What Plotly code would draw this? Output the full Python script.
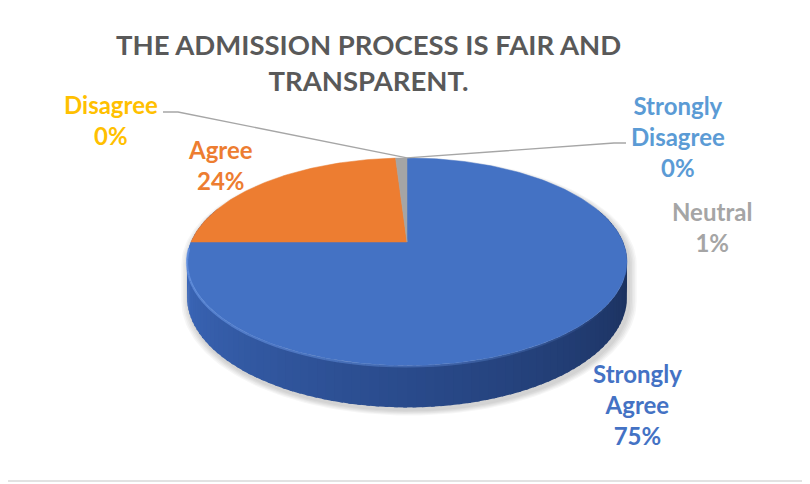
import numpy as np
import plotly.graph_objects as go

# ---------------- data ----------------
categories = ["Strongly Agree", "Agree", "Neutral", "Disagree", "Strongly Disagree"]
percent = [75, 24, 1, 0, 0]
slice_colors = ["#4472C4", "#ED7D31", "#A5A5A5", "#FFC000", "#5B9BD5"]
title_lines = ["THE ADMISSION PROCESS IS FAIR AND", "TRANSPARENT."]

# ---------------- geometry / style (page pixel space) ----------------
PAGE_OFF = 8               # default body margin of the html page
CX, CY = 407, 242          # apex of the pie on screen
RX, RY = 216, 100          # radii of the projected disk
K = 0.19                   # perspective factor
DEPTH = 34                 # side thickness

# label placement (centre of each label block)
label_pos = {
    "Strongly Agree": (637, 404),
    "Agree": (220, 165),
    "Neutral": (712, 227),
    "Disagree": (111, 120),
    "Strongly Disagree": (678, 136),
}
leader_elbows = {
    "Disagree": [(178, 112), (163, 112)],
    "Strongly Disagree": [(614, 143), (626, 143)],
}


def proj(theta, r=1.0):
    u = r * np.sin(theta)
    v = r * np.cos(theta)
    s = 1.0 / (1.0 + K * v)
    return CX + RX * u * s, CY - RY * v * s


def depth(theta):
    return DEPTH / (1.0 + K * np.cos(theta))


total = float(sum(percent))
fractions = [p / total for p in percent]
starts = np.concatenate([[0.0], np.cumsum(fractions)[:-1]]) * 2 * np.pi
ends = np.cumsum(fractions) * 2 * np.pi

fig = go.Figure()
deg = np.pi / 180

# ---- soft shadow ----
top_back = np.linspace(259 * deg, 461 * deg, 120)
bot_front = np.linspace(101 * deg, 259 * deg, 100)
sx = [proj(t)[0] for t in top_back] + [proj(t)[0] for t in bot_front]
sy = [proj(t)[1] for t in top_back] + [proj(t)[1] + depth(t) for t in bot_front]
sx, sy = np.array(sx), np.array(sy)
for i in range(1, 6):
    sc = 1 + 0.007 * i
    fig.add_trace(go.Scatter(
        x=CX + (sx - CX) * sc + 2, y=CY + 20 + (sy - CY - 20) * sc + 3,
        fill="toself", mode="lines", line=dict(width=0),
        fillcolor="rgba(0,0,0,0.035)", hoverinfo="skip"))

# ---- side wall (gradient, front part) ----
c_dark = np.array([27, 48, 92])
c_mid = np.array([42, 75, 140])
c_light = np.array([60, 104, 186])


def side_color(theta):
    t = (theta - 101 * deg) / (158 * deg)
    t = min(max(t, 0.0), 1.0)
    if t < 0.5:
        c = c_dark + (c_mid - c_dark) * (t / 0.5)
    else:
        c = c_mid + (c_light - c_mid) * ((t - 0.5) / 0.5)
    return "rgb(%d,%d,%d)" % tuple(c.astype(int))


step = 2 * deg
angles = np.arange(70, 291, 2) * deg
for a0 in angles[:-1]:
    a1 = a0 + step * 1.4      # overlap to avoid seams
    mid = a0 + step / 2
    th = np.linspace(a0, a1, 4)
    xt = [proj(t)[0] for t in th]
    yt = [proj(t)[1] for t in th]
    yb = [proj(t)[1] + depth(t) for t in th]
    col = side_color(mid)
    fig.add_trace(go.Scatter(
        x=xt + xt[::-1] + [xt[0]],
        y=yt + yb[::-1] + [yt[0]],
        fill="toself", mode="lines", line=dict(width=0),
        fillcolor=col, hoverinfo="skip"))

# ---- top faces ----
for cat, a0, a1, col in zip(categories, starts, ends, slice_colors):
    if a1 - a0 <= 0:
        continue
    n = max(int((a1 - a0) / deg), 2)
    th = np.linspace(a0, a1, n)
    xs = [CX] + [proj(t)[0] for t in th] + [CX]
    ys = [CY] + [proj(t)[1] for t in th] + [CY]
    fig.add_trace(go.Scatter(
        x=xs, y=ys, fill="toself", mode="lines",
        line=dict(width=0.5, color=col), fillcolor=col, hoverinfo="skip"))

# ---- rim highlight (bevel) ----
hl = np.arange(120, 268, 3) * deg
for a0, a1 in zip(hl[:-1], hl[1:]):
    t = (a0 - 120 * deg) / (140 * deg)
    alpha = 0.75 * min(max(t, 0.0), 1.0) ** 0.8
    x0, y0 = proj(a0)
    x1, y1 = proj(a1)
    fig.add_trace(go.Scatter(
        x=[x0, x1], y=[y0 + 1, y1 + 1], mode="lines",
        line=dict(width=2.2, color="rgba(105,150,228,%.2f)" % alpha),
        hoverinfo="skip"))

# ---- leader lines for tiny slices ----
for cat, a0, a1 in zip(categories, starts, ends):
    if cat in leader_elbows:
        mid = (a0 + a1) / 2
        px, py = proj(mid)
        pts = [(px, py)] + leader_elbows[cat]
        fig.add_trace(go.Scatter(
            x=[p[0] for p in pts], y=[p[1] for p in pts], mode="lines",
            line=dict(width=1.3, color="#A6A6A6"), hoverinfo="skip"))

# ---- labels ----
annotations = []
for cat, p, col in zip(categories, percent, slice_colors):
    lx, ly = label_pos[cat]
    name = cat.replace(" ", "<br>")
    annotations.append(dict(
        x=lx, y=ly, xref="x", yref="y", showarrow=False,
        text="<b>%s<br>%d%%</b>" % (name, round(p)),
        font=dict(family="Lato", size=24, color=col),
        xanchor="center", yanchor="middle", align="center"))

annotations.append(dict(
    x=368, y=62, xref="x", yref="y", showarrow=False,
    text="<b>" + "<br>".join(title_lines) + "</b>",
    font=dict(family="Lato", size=27.5, color="#595959"),
    xanchor="center", yanchor="middle", align="center"))

W, H = 810, 484
fig.update_layout(
    width=W - PAGE_OFF, height=H - PAGE_OFF,
    margin=dict(l=0, r=0, t=0, b=0),
    paper_bgcolor="white", plot_bgcolor="white",
    showlegend=False,
    xaxis=dict(range=[PAGE_OFF, W], visible=False, fixedrange=True),
    yaxis=dict(range=[H, PAGE_OFF], visible=False, fixedrange=True),
    annotations=annotations,
    shapes=[
        dict(type="line", xref="x", yref="y", x0=808, x1=808, y0=PAGE_OFF, y1=481,
             line=dict(color="#D9D9D9", width=1.5)),
        dict(type="line", xref="x", yref="y", x0=PAGE_OFF, x1=808, y0=481, y1=481,
             line=dict(color="#D9D9D9", width=1.5)),
    ],
)

fig.write_html("out.html")
